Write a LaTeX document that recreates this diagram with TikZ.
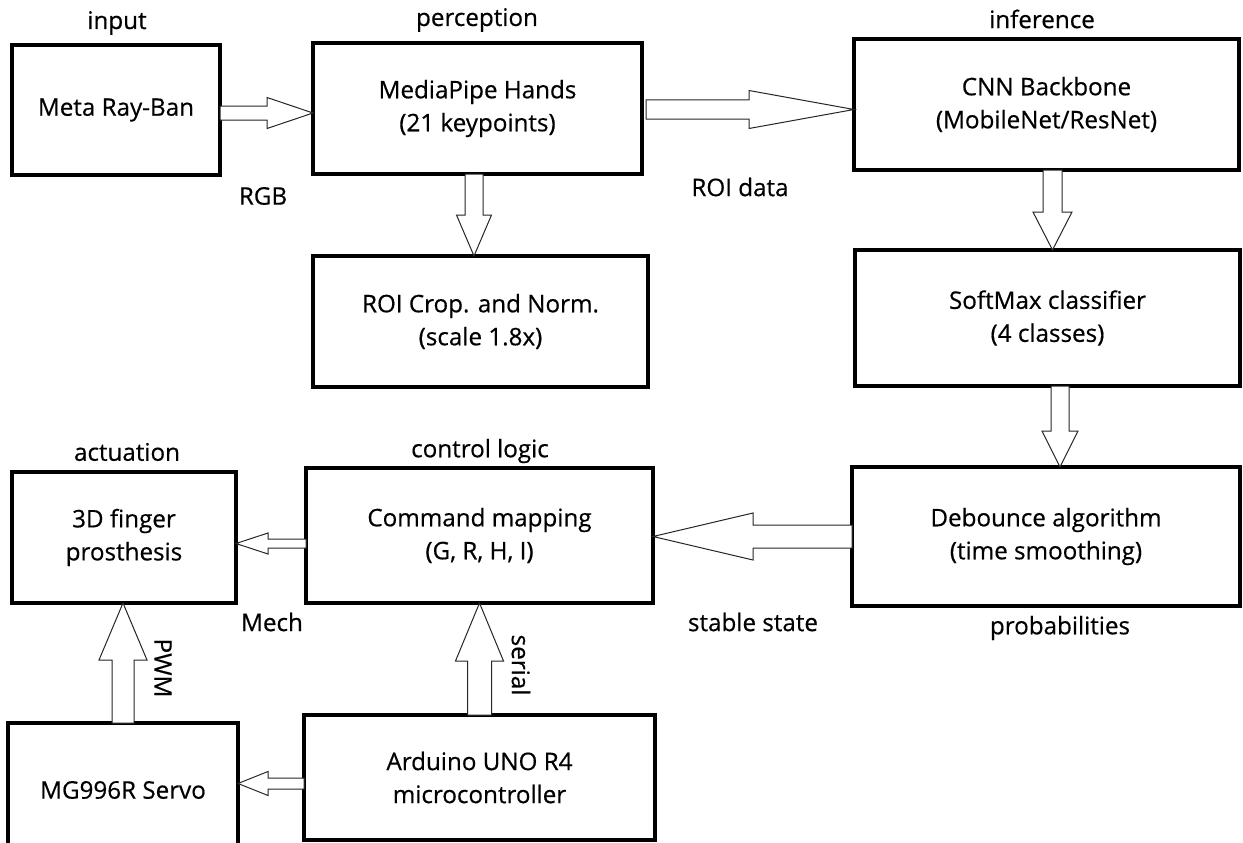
\documentclass[tikz,border=0pt]{standalone}
\usepackage{fontspec}
\setmainfont{Open Sans}[FakeBold=0.5]
\usetikzlibrary{calc}
\tikzset{
  box/.style={draw=black, line width=4.5pt, fill=white, rectangle, inner sep=0pt, outer sep=0pt,
    align=center, font=\fontsize{24.2}{33}\selectfont},
  lbl/.style={font=\fontsize{24.2}{33}\selectfont, inner sep=1pt},
  fatarrow/.style={draw=black!85, line width=1pt, fill=white, line join=miter}
}
\newcommand\blockarrow[5]{%
  \coordinate (ba-h) at ($(#2)!#5!(#1)$);
  \draw[fatarrow] ($(#1)!#3!90:(#2)$) -- ($(ba-h)!#3!90:(#2)$) -- ($(ba-h)!#4!90:(#2)$) -- (#2)
    -- ($(ba-h)!#4!-90:(#2)$) -- ($(ba-h)!#3!-90:(#2)$) -- ($(#1)!#3!-90:(#2)$) -- cycle;}
\begin{document}
\begin{tikzpicture}[x=1pt,y=-1pt]
\clip (0,0) rectangle (1243,843);
\fill[white] (0,0) rectangle (1243,843);

% boxes
\node[box, minimum width=208pt, minimum height=130pt] (meta) at (116,110) {Meta Ray-Ban};
\node[box, minimum width=329pt, minimum height=131pt] (mp) at (477.5,108.5) {MediaPipe Hands\\(21 keypoints)};
\node[box, minimum width=335pt, minimum height=131pt] (roi) at (480.5,321.5) {ROI Crop. and Norm.\\(scale 1.8x)};
\node[box, minimum width=385pt, minimum height=131pt] (cnn) at (1046.5,104.5) {CNN Backbone\\(MobileNet/ResNet)};
\node[box, minimum width=385pt, minimum height=136pt] (sm) at (1047.5,318) {SoftMax classifier\\(4 classes)};
\node[box, minimum width=388pt, minimum height=139pt] (deb) at (1046,536.5) {Debounce algorithm\\(time smoothing)};
\node[box, minimum width=347pt, minimum height=135pt] (cmd) at (479.5,535.5) {Command mapping\\(G, R, H, I)};
\node[box, minimum width=224pt, minimum height=131pt] (fing) at (124,537.5) {3D finger\\prosthesis};
\node[box, minimum width=230pt, minimum height=134pt] (servo) at (123,790) {MG996R Servo};
\node[box, minimum width=351pt, minimum height=125pt] (ard) at (479.5,777.5) {Arduino UNO R4\\microcontroller};

% labels
\node[lbl] (l-input) at (117,23) {input};
\node[lbl] (l-perc) at (477,20) {perception};
\node[lbl] (l-inf) at (1042,19) {inference};
\node[lbl] (l-rgb) at (263,196) {RGB};
\node[lbl] (l-roid) at (740,187) {ROI data};
\node[lbl] (l-ctrl) at (480,451) {control logic};
\node[lbl] (l-act) at (127,452) {actuation};
\node[lbl] (l-mech) at (272,622) {Mech};
\node[lbl] (l-stable) at (753,622) {stable state};
\node[lbl] (l-prob) at (1060,628) {probabilities};
\node[lbl, rotate=-90] (l-pwm) at (163,668) {PWM};
\node[lbl, rotate=-90] (l-serial) at (521,665) {serial};

% connectors
\coordinate (a1s) at ($(meta.east)+(0,3)$);
\coordinate (a1e) at (mp.west |- a1s);
\blockarrow{a1s}{a1e}{7pt}{15.5pt}{46pt}

\coordinate (a2s) at ($(mp.east)+(4,1)$);
\coordinate (a2e) at (cnn.west |- a2s);
\blockarrow{a2s}{a2e}{9.5pt}{19pt}{105pt}

\coordinate (a3s) at ($(mp.south)+(-3.5,0)$);
\coordinate (a3e) at (roi.north -| a3s);
\blockarrow{a3s}{a3e}{9pt}{17.5pt}{41pt}

\coordinate (a4s) at ($(cnn.south)+(6,0)$);
\coordinate (a4e) at (sm.north -| a4s);
\blockarrow{a4s}{a4e}{9.5pt}{19.5pt}{38pt}

\coordinate (a5s) at ($(sm.south)+(12.5,0)$);
\coordinate (a5e) at (deb.north -| a5s);
\blockarrow{a5s}{a5e}{9pt}{18pt}{36pt}

\coordinate (a6s) at (deb.west);
\coordinate (a6e) at (cmd.east |- a6s);
\blockarrow{a6s}{a6e}{11.5pt}{23.5pt}{100pt}

\coordinate (a7s) at ($(cmd.west)+(0,8)$);
\coordinate (a7e) at (fing.east |- a7s);
\blockarrow{a7s}{a7e}{4.5pt}{10.5pt}{32pt}

\coordinate (a8s) at (ard.north);
\coordinate (a8e) at (cmd.south -| a8s);
\blockarrow{a8s}{a8e}{12pt}{24pt}{58pt}

\coordinate (a9s) at ($(ard.west)+(0,6)$);
\coordinate (a9e) at (servo.east |- a9s);
\blockarrow{a9s}{a9e}{5.5pt}{12pt}{30pt}

\coordinate (a10s) at (servo.north);
\coordinate (a10e) at (fing.south -| a10s);
\blockarrow{a10s}{a10e}{11pt}{24pt}{57pt}
\end{tikzpicture}
\end{document}
